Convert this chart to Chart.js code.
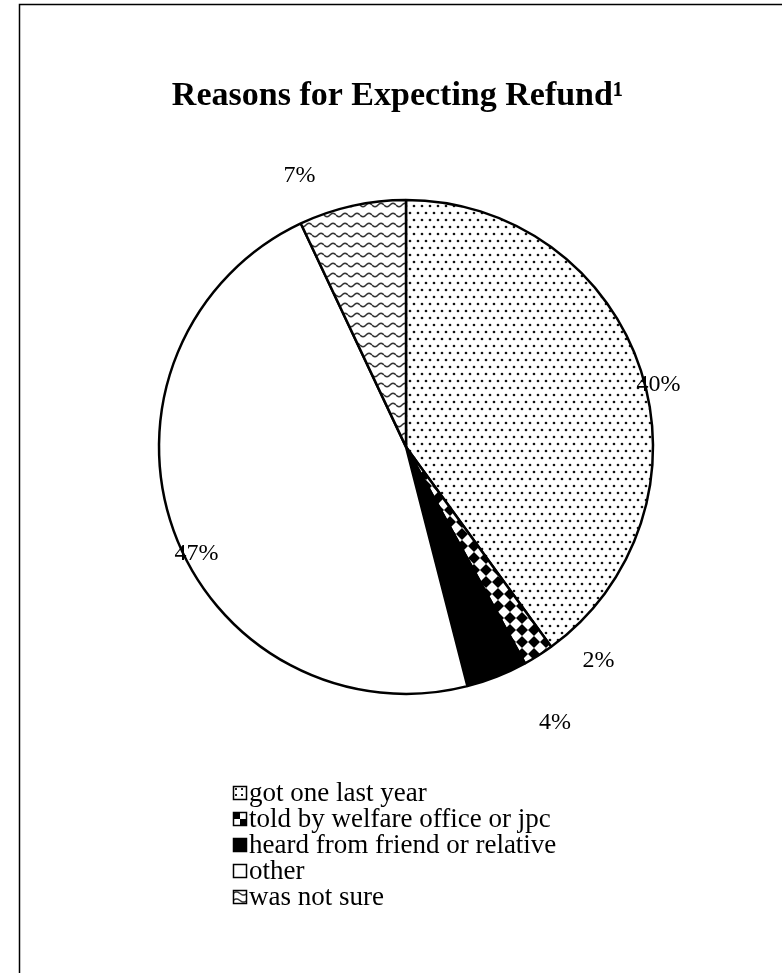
<!doctype html>
<html>
<head>
<meta charset="utf-8">
<title>Reasons for Expecting Refund</title>
<script src="https://cdn.jsdelivr.net/npm/chart.js@4.4.1/dist/chart.umd.min.js"></script>
<style>
  html, body { margin: 0; padding: 0; background: #fff; }
  #wrap { position: relative; width: 782px; height: 973px; }
</style>
</head>
<body>
<div id="wrap"><canvas id="canvas"></canvas></div>
<script>
var reasons = ['got one last year', 'told by welfare office or jpc', 'heard from friend or relative', 'other', 'was not sure'];
var shares = [40, 2, 4, 47, 7];

// nudges for the percent labels, from the default spot just outside each slice
var labelShift = [[-11, 23], [44, -20], [47, 18], [51, 13], [-46, -1]];

function tile(w, h, paint) {
  var c = document.createElement('canvas');
  c.width = w;
  c.height = h;
  var g = c.getContext('2d');
  g.fillStyle = '#fff';
  g.fillRect(0, 0, w, h);
  paint(g, w, h);
  return c;
}

// fills used inside the pie
function sliceFills(ctx) {
  var dotted = tile(8, 14, function(g) {
    g.fillStyle = '#111';
    [[2, 3], [6, 10]].forEach(function(p) {
      g.beginPath();
      g.arc(p[0], p[1], 1.35, 0, Math.PI * 2);
      g.fill();
    });
  });
  var checker = tile(12, 12, function(g, w, h) {
    g.fillStyle = '#000';
    g.beginPath();
    g.moveTo(w / 2, 0);
    g.lineTo(w, h / 2);
    g.lineTo(w / 2, h);
    g.lineTo(0, h / 2);
    g.closePath();
    g.fill();
  });
  var wavy = tile(12, 10, function(g, w, h) {
    g.strokeStyle = '#333';
    g.lineWidth = 1.6;
    g.beginPath();
    for (var x = 0; x <= w; x++) {
      var y = h / 2 + 1.8 * Math.sin(2 * Math.PI * x / w);
      if (x === 0) g.moveTo(x, y); else g.lineTo(x, y);
    }
    g.stroke();
  });
  return [
    ctx.createPattern(dotted, 'repeat'),
    ctx.createPattern(checker, 'repeat'),
    '#000',
    '#fff',
    ctx.createPattern(wavy, 'repeat')
  ];
}

// coarser versions for the small legend boxes
function swatchFills(ctx) {
  var dotted = tile(6, 6, function(g) {
    g.fillStyle = '#222';
    g.fillRect(2, 2, 2, 2);
  });
  var checker = tile(14, 14, function(g) {
    g.fillStyle = '#000';
    g.fillRect(0, 0, 7, 7);
    g.fillRect(7, 7, 7, 7);
  });
  var wavy = tile(14, 7, function(g, w, h) {
    g.strokeStyle = '#333';
    g.lineWidth = 1.4;
    g.beginPath();
    for (var x = 0; x <= w; x++) {
      var y = h / 2 + 1.6 * Math.sin(2 * Math.PI * x / w + Math.PI);
      if (x === 0) g.moveTo(x, y); else g.lineTo(x, y);
    }
    g.stroke();
  });
  return [
    ctx.createPattern(dotted, 'repeat'),
    ctx.createPattern(checker, 'repeat'),
    '#000',
    '#fff',
    ctx.createPattern(wavy, 'repeat')
  ];
}

var canvas = document.getElementById('canvas');
var fills = sliceFills(canvas.getContext('2d'));

// outer frame, only its top and left edges fall on the page
var frame = {
  id: 'frame',
  beforeDraw: function(chart) {
    var ctx = chart.ctx;
    ctx.save();
    ctx.strokeStyle = '#000';
    ctx.lineWidth = 1.5;
    ctx.strokeRect(19.5, 4.5, 1000, 1200);
    ctx.restore();
  }
};

var sliceLabels = {
  id: 'sliceLabels',
  afterDatasetsDraw: function(chart) {
    var ctx = chart.ctx;
    var meta = chart.getDatasetMeta(0);
    ctx.save();
    ctx.fillStyle = '#000';
    ctx.font = '24px "Liberation Serif"';
    ctx.textAlign = 'center';
    ctx.textBaseline = 'middle';
    meta.data.forEach(function(arc, i) {
      var p = arc.getProps(['x', 'y', 'startAngle', 'endAngle', 'outerRadius'], true);
      var a = (p.startAngle + p.endAngle) / 2;
      var r = p.outerRadius + 30;
      var x = p.x + Math.cos(a) * r + labelShift[i][0];
      var y = p.y + Math.sin(a) * r + labelShift[i][1];
      ctx.fillText(chart.data.datasets[0].data[i] + '%', x, y);
    });
    ctx.restore();
  }
};

// legend stacked in one left-aligned column under the pie
var patternLegend = {
  id: 'patternLegend',
  afterDraw: function(chart) {
    var ctx = chart.ctx;
    var swatches = swatchFills(ctx);
    var x0 = 233, y0 = 793, step = 26, box = 14;
    ctx.save();
    ctx.font = '27px "Liberation Serif"';
    ctx.textBaseline = 'middle';
    ctx.textAlign = 'left';
    chart.data.labels.forEach(function(label, i) {
      var y = y0 + i * step;
      var top = Math.round(y - box / 2);
      var fill = swatches[i];
      if (typeof fill !== 'string') {
        fill.setTransform(new DOMMatrix().translate(x0, top));
      }
      ctx.fillStyle = fill;
      ctx.fillRect(x0, top, box, box);
      ctx.strokeStyle = '#000';
      ctx.lineWidth = 1.5;
      ctx.strokeRect(x0 + 0.5, top + 0.5, box - 1, box - 1);
      ctx.fillStyle = '#000';
      ctx.fillText(label, x0 + box + 2, y + 1);
    });
    ctx.restore();
  }
};

var chart = new Chart(canvas, {
  type: 'pie',
  data: {
    labels: reasons,
    datasets: [{
      data: shares,
      backgroundColor: fills,
      borderColor: '#000',
      borderWidth: 2.5
    }]
  },
  options: {
    responsive: true,
    maintainAspectRatio: false,
    animation: false,
    radius: 247,
    layout: {
      padding: { left: 30, right: 0, top: 0, bottom: 236 }
    },
    plugins: {
      legend: { display: false },
      tooltip: { enabled: false },
      title: {
        display: true,
        text: 'Reasons for Expecting Refund\u00b9  ',
        color: '#000',
        font: { family: 'Liberation Serif', size: 34, weight: 'bold' },
        padding: { top: 76, bottom: 40 }
      }
    }
  },
  plugins: [frame, sliceLabels, patternLegend]
});
</script>
</body>
</html>
